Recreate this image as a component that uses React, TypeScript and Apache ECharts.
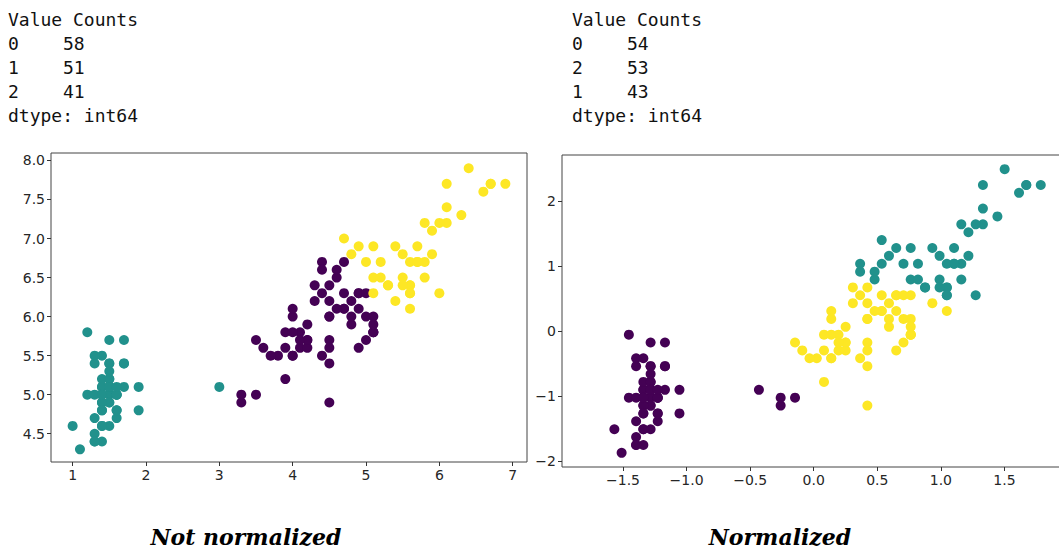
import React, { useEffect, useRef } from "react";
import * as echarts from "echarts";

// ---- Value counts printed above each plot ----
const leftCountLabels = ["0", "1", "2"];
const leftCounts = [58, 51, 41];
const rightCountLabels = ["0", "2", "1"];
const rightCounts = [54, 53, 43];

// ---- Tick values ----
const leftXTicks = [1, 2, 3, 4, 5, 6, 7];
const leftYTicks = [4.5, 5.0, 5.5, 6.0, 6.5, 7.0, 7.5, 8.0];
const rightXTicks = [-1.5, -1.0, -0.5, 0.0, 0.5, 1.0, 1.5];
const rightYTicks = [-2, -1, 0, 1, 2];

// ---- Not normalized: [petal length, sepal length] ----
const rawCluster0: number[][] = [
  [4.5, 6.4], [4.0, 5.5], [4.6, 6.5], [4.5, 5.7], [4.7, 6.3], [3.3, 4.9], [4.6, 6.6], [3.9, 5.2], [3.5, 5.0], [4.2, 5.9],
  [4.0, 6.0], [4.7, 6.1], [3.6, 5.6], [4.4, 6.7], [4.5, 5.6], [4.1, 5.8], [4.5, 6.2], [3.9, 5.6], [4.8, 5.9], [4.0, 6.1],
  [4.9, 6.3], [4.7, 6.1], [4.3, 6.4], [4.4, 6.6], [4.5, 6.0], [3.5, 5.7], [3.8, 5.5], [3.7, 5.5], [3.9, 5.8], [5.1, 6.0],
  [4.5, 5.4], [4.5, 6.0], [4.7, 6.7], [4.4, 6.3], [4.1, 5.6], [4.0, 5.5], [4.4, 5.5], [4.6, 6.1], [4.0, 5.8], [3.3, 5.0],
  [4.2, 5.6], [4.2, 5.7], [4.2, 5.7], [4.3, 6.2], [4.1, 5.7],
  [5.1, 5.8], [4.5, 4.9], [5.0, 5.7], [5.1, 5.8], [5.0, 6.0], [4.9, 5.6], [4.9, 6.3], [4.8, 6.2], [4.9, 6.1], [4.8, 6.0],
  [5.1, 5.8], [5.0, 6.3], [5.1, 5.9],
];
const rawCluster1: number[][] = [
  [1.4, 5.1], [1.4, 4.9], [1.3, 4.7], [1.5, 4.6], [1.4, 5.0], [1.7, 5.4], [1.4, 4.6], [1.5, 5.0], [1.4, 4.4], [1.5, 4.9],
  [1.5, 5.4], [1.6, 4.8], [1.4, 4.8], [1.1, 4.3], [1.2, 5.8], [1.5, 5.7], [1.3, 5.4], [1.4, 5.1], [1.7, 5.7], [1.5, 5.1],
  [1.7, 5.4], [1.5, 5.1], [1.0, 4.6], [1.7, 5.1], [1.9, 4.8], [1.6, 5.0], [1.6, 5.0], [1.5, 5.2], [1.4, 5.2], [1.6, 4.7],
  [1.6, 4.8], [1.5, 5.4], [1.5, 5.2], [1.4, 5.5], [1.5, 4.9], [1.2, 5.0], [1.3, 5.5], [1.4, 4.9], [1.3, 4.4], [1.5, 5.1],
  [1.3, 5.0], [1.3, 4.5], [1.3, 4.4], [1.6, 5.0], [1.9, 5.1], [1.4, 4.8], [1.6, 5.1], [1.4, 4.6], [1.5, 5.3], [1.4, 5.0],
  [3.0, 5.1],
];
const rawCluster2: number[][] = [
  [4.7, 7.0], [4.9, 6.9], [4.8, 6.8], [5.0, 6.7],
  [6.0, 6.3], [5.9, 7.1], [5.6, 6.3], [5.8, 6.5], [6.6, 7.6], [6.3, 7.3], [5.8, 6.7], [6.1, 7.2], [5.1, 6.5], [5.3, 6.4],
  [5.5, 6.8], [5.3, 6.4], [5.5, 6.5], [6.7, 7.7], [6.9, 7.7], [5.7, 6.9], [6.7, 7.7], [5.7, 6.7], [6.0, 7.2], [5.6, 6.4],
  [5.8, 7.2], [6.1, 7.4], [6.4, 7.9], [5.6, 6.4], [5.1, 6.3], [5.6, 6.1], [6.1, 7.7], [5.6, 6.3], [5.5, 6.4], [5.4, 6.9],
  [5.6, 6.7], [5.1, 6.9], [5.9, 6.8], [5.7, 6.7], [5.2, 6.7], [5.2, 6.5], [5.4, 6.2],
];

// ---- Normalized: [petal length z, sepal length z] ----
const normCluster0: number[][] = [
  [-1.340, -0.901], [-1.340, -1.143], [-1.397, -1.385], [-1.283, -1.507], [-1.340, -1.022], [-1.170, -0.537], [-1.340, -1.507],
  [-1.283, -1.022], [-1.340, -1.749], [-1.283, -1.143], [-1.283, -0.537], [-1.227, -1.264], [-1.340, -1.264], [-1.511, -1.870],
  [-1.454, -0.053], [-1.283, -0.174], [-1.397, -0.537], [-1.340, -0.901], [-1.170, -0.174], [-1.283, -0.901], [-1.170, -0.537],
  [-1.283, -0.901], [-1.568, -1.507], [-1.170, -0.901], [-1.056, -1.264], [-1.227, -1.022], [-1.227, -1.022], [-1.283, -0.780],
  [-1.340, -0.780], [-1.227, -1.385], [-1.227, -1.264], [-1.283, -0.537], [-1.283, -0.780], [-1.340, -0.416], [-1.283, -1.143],
  [-1.454, -1.022], [-1.397, -0.416], [-1.340, -1.143], [-1.397, -1.749], [-1.283, -0.901], [-1.397, -1.022], [-1.397, -1.628],
  [-1.397, -1.749], [-1.227, -1.022], [-1.056, -0.901], [-1.340, -1.264], [-1.227, -0.901], [-1.340, -1.507], [-1.283, -0.659],
  [-1.340, -1.022],
  [-0.260, -1.143], [-0.147, -1.022], [-0.260, -1.022], [-0.431, -0.901],
];
const normCluster1: number[][] = [
  [0.535, 1.401], [0.649, 1.280], [0.479, 0.795], [0.479, 0.916], [0.365, 1.038], [0.365, 0.916], [0.592, 1.159], [0.706, 1.038],
  [0.535, 1.038],
  [1.274, 0.553], [1.217, 1.522], [1.047, 0.553], [1.161, 0.795], [1.615, 2.128], [1.445, 1.765], [1.161, 1.038], [1.331, 1.644],
  [0.763, 0.795], [0.876, 0.674], [0.990, 1.159], [0.876, 0.674], [0.990, 0.795], [1.672, 2.249], [1.786, 2.249], [1.104, 1.280],
  [1.672, 2.249], [1.104, 1.038], [1.274, 1.644], [1.047, 0.674], [1.161, 1.644], [1.331, 1.886], [1.502, 2.492], [1.047, 0.674],
  [1.331, 2.249], [1.047, 0.553], [0.990, 0.674], [0.933, 1.280], [1.047, 1.038], [0.763, 1.280], [1.217, 1.159], [1.104, 1.038],
  [0.820, 1.038], [0.820, 0.795],
];
const normCluster2: number[][] = [
  [0.422, 0.674], [0.138, -0.416], [0.422, -0.174], [0.535, 0.553], [0.081, -0.780], [0.251, 0.068], [0.138, 0.189],
  [0.535, 0.311], [-0.090, -0.295], [0.422, -0.295], [0.195, -0.053], [0.422, 0.432], [0.081, -0.295], [0.592, 0.068],
  [0.138, 0.311], [0.649, 0.553], [0.535, 0.311], [0.308, 0.674], [0.422, 0.189], [-0.147, -0.174], [0.024, -0.416],
  [-0.033, -0.416], [0.081, -0.053], [0.763, 0.189], [0.422, -0.537], [0.422, 0.189], [0.365, 0.553], [0.195, -0.295],
  [0.138, -0.416], [0.365, -0.416], [0.479, 0.311], [0.138, -0.053], [0.251, -0.295], [0.251, -0.174], [0.251, -0.174],
  [0.308, 0.432], [0.195, -0.174],
  [0.763, -0.053], [0.422, -1.143], [0.706, -0.174], [0.763, -0.053], [0.706, 0.189], [0.649, -0.295], [0.649, 0.553],
  [0.592, 0.432], [0.649, 0.311], [0.763, 0.553], [1.047, 0.311], [0.592, 0.189], [0.763, -0.053], [0.706, 0.553],
  [0.933, 0.432], [0.763, 0.068],
];

const COLORS = ["#440154", "#21918c", "#fde725"];
const TICK_FONT = "DejaVu Sans";
const MONO = '18px "DejaVu Sans Mono"';

const fmtMinus = (s: string) => s.replace("-", "\u2212");

function axisBase(gridIndex: number, min: number, max: number, ticks: number[], fmt: (v: number) => string) {
  return {
    type: "value",
    gridIndex,
    min,
    max,
    splitLine: { show: false },
    axisLine: { show: false, onZero: false },
    axisTick: {
      show: true,
      length: 4,
      lineStyle: { color: "#333", width: 1 },
      customValues: ticks,
    },
    axisLabel: {
      customValues: ticks,
      formatter: (v: number) => fmt(v),
      fontSize: 14,
      fontFamily: TICK_FONT,
      color: "#262626",
      margin: 6,
      showMinLabel: true,
      showMaxLabel: true,
    },
  };
}

function countTexts(x0: number, labels: string[], counts: number[]) {
  const els: any[] = [];
  const lineY = [19, 43, 67, 91, 115];
  els.push({ type: "text", x: x0, y: lineY[0], style: { text: "Value Counts", font: MONO, fill: "#111", verticalAlign: "middle" } });
  labels.forEach((l, i) => {
    els.push({ type: "text", x: x0, y: lineY[i + 1], style: { text: l, font: MONO, fill: "#111", verticalAlign: "middle" } });
    els.push({ type: "text", x: x0 + 55, y: lineY[i + 1], style: { text: String(counts[i]), font: MONO, fill: "#111", verticalAlign: "middle" } });
  });
  els.push({ type: "text", x: x0, y: lineY[4], style: { text: "dtype: int64", font: MONO, fill: "#111", verticalAlign: "middle" } });
  return els;
}

export default function App() {
  const ref = useRef<HTMLDivElement>(null);

  useEffect(() => {
    if (!ref.current) return;
    const chart = echarts.init(ref.current, undefined, { renderer: "svg" });

    const scatter = (data: number[][], color: string, idx: number) => ({
      type: "scatter",
      xAxisIndex: idx,
      yAxisIndex: idx,
      data,
      symbol: "circle",
      symbolSize: 10,
      itemStyle: { color, opacity: 1 },
      emphasis: { disabled: true },
      silent: true,
    });

    chart.setOption({
      animation: false,
      backgroundColor: "#ffffff",
      grid: [
        { left: 51, top: 153, width: 476, height: 309, show: true, borderColor: "#444", borderWidth: 1, outerBoundsMode: "none", containLabel: false },
        { left: 562, top: 155, width: 500, height: 312, show: true, borderColor: "#444", borderWidth: 1, outerBoundsMode: "none", containLabel: false },
      ],
      xAxis: [
        axisBase(0, 0.705, 7.195, leftXTicks, (v) => String(Math.round(v))),
        axisBase(1, -1.98, 1.953, rightXTicks, (v) => fmtMinus(v.toFixed(1))),
      ],
      yAxis: [
        axisBase(0, 4.138, 8.095, leftYTicks, (v) => v.toFixed(1)),
        axisBase(1, -2.088, 2.71, rightYTicks, (v) => fmtMinus(String(Math.round(v)))),
      ],
      series: [
        scatter(rawCluster0, COLORS[0], 0),
        scatter(rawCluster1, COLORS[1], 0),
        scatter(rawCluster2, COLORS[2], 0),
        scatter(normCluster0, COLORS[0], 1),
        scatter(normCluster1, COLORS[1], 1),
        scatter(normCluster2, COLORS[2], 1),
      ],
      graphic: [
        ...countTexts(8, leftCountLabels, leftCounts),
        ...countTexts(572, rightCountLabels, rightCounts),
        { type: "text", x: 246, y: 537, style: { text: "Not normalized", font: 'italic bold 22px "DejaVu Serif"', fill: "#000", align: "center", verticalAlign: "middle" } },
        { type: "text", x: 780, y: 537, style: { text: "Normalized", font: 'italic bold 22px "DejaVu Serif"', fill: "#000", align: "center", verticalAlign: "middle" } },
      ],
    });

    return () => chart.dispose();
  }, []);

  return (
    <div
      ref={ref}
      style={{ position: "absolute", left: 0, top: 0, width: 1059, height: 549, background: "#fff" }}
    />
  );
}
